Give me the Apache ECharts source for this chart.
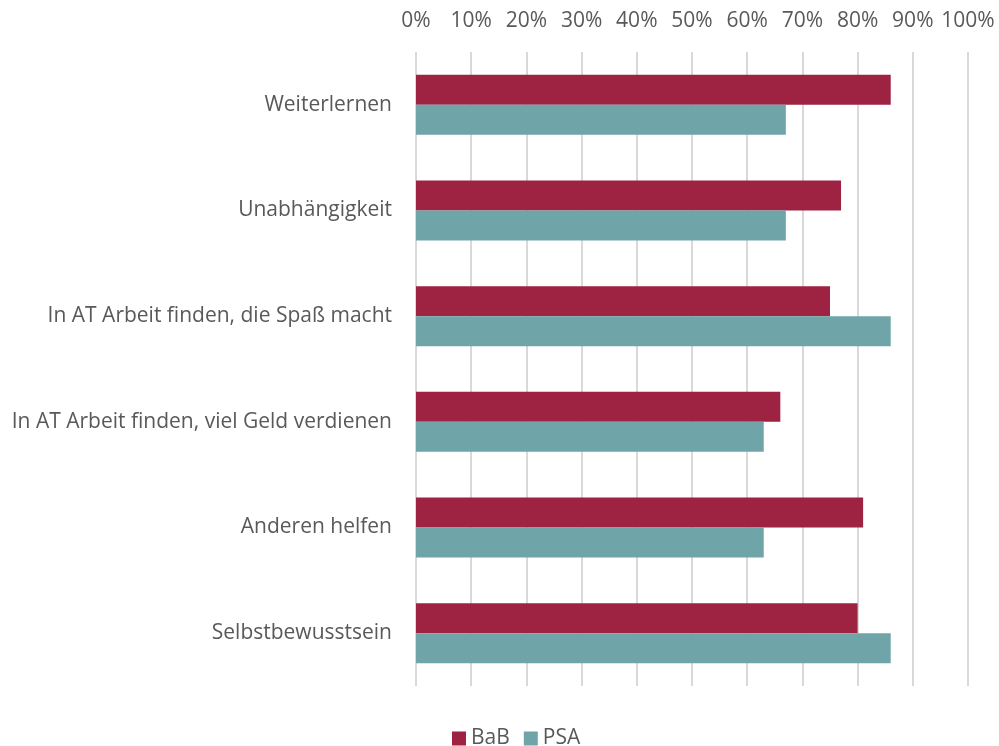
<!DOCTYPE html>
<html><head><meta charset="utf-8">
<script src="https://cdn.jsdelivr.net/npm/echarts@6/dist/echarts.min.js"></script>
<style>html,body{margin:0;padding:0;background:#fff}#c{width:999px;height:746px}</style>
</head><body><div id="c"></div>
<script>
const categories = ["Weiterlernen","Unabhängigkeit","In AT Arbeit finden, die Spaß macht","In AT Arbeit finden, viel Geld verdienen","Anderen helfen","Selbstbewusstsein"];
const bab = [86,77,75,66,81,80];
const psa = [67,67,86,63,63,86];
const seriesNames = ["BaB","PSA"];
const colors = ["#9E2242","#6FA5A8"];
const chart = echarts.init(document.getElementById('c'));
const font = "'Open Sans', sans-serif";
chart.setOption({
  animation:false,
  grid:{left:416,right:31,top:52,bottom:60,containLabel:false},
  legend:{top:723,left:447,itemWidth:14,itemHeight:14,itemGap:14,itemTextGap:5,icon:'rect',
    textStyle:{fontFamily:font,fontSize:21,color:'#595959'},data:seriesNames},
  xAxis:{type:'value',position:'top',min:0,max:100,interval:10,
    axisLabel:{formatter:'{value}%',fontFamily:font,fontSize:21,color:'#595959',margin:20},
    axisLine:{show:false},axisTick:{show:false},
    splitLine:{lineStyle:{color:'#d9d9d9',width:2}}},
  yAxis:{type:'category',inverse:true,data:categories,
    axisLabel:{fontFamily:font,fontSize:21,color:'#595959',margin:24},
    axisLine:{show:false},axisTick:{show:false}},
  series:[
    {name:seriesNames[0],type:'bar',data:bab,barWidth:30,barGap:'0%',barCategoryGap:'43%',itemStyle:{color:colors[0]}},
    {name:seriesNames[1],type:'bar',data:psa,barWidth:30,barGap:'0%',itemStyle:{color:colors[1]}}
  ]
});
</script></body></html>
